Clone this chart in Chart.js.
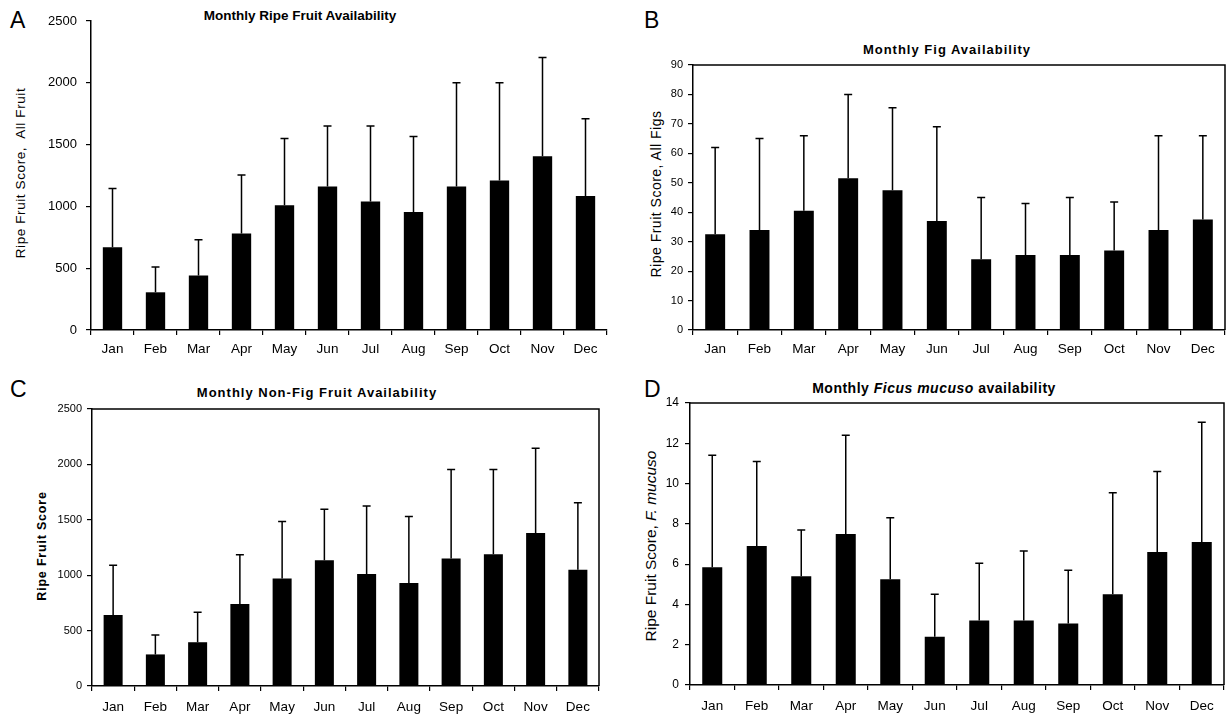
<!DOCTYPE html>
<html>
<head>
<meta charset="utf-8">
<script src="https://cdn.jsdelivr.net/npm/chart.js@4.4.0/dist/chart.umd.min.js"></script>
<style>
  html, body { margin: 0; padding: 0; background: #fff; }
  body { width: 1226px; height: 715px; position: relative; overflow: hidden; font-family: "Liberation Sans", Arial, sans-serif; color: #000; }
  .box { position: absolute; }
  .letter { position: absolute; font-size: 23px; line-height: 1; font-family: "Liberation Sans", Arial, sans-serif; }
  .ttl { position: absolute; font-weight: bold; white-space: nowrap; transform: translateX(-50%); line-height: 1; }
  .ytl { position: absolute; white-space: nowrap; transform: translate(-50%, -50%) rotate(-90deg); line-height: 1; }
</style>
</head>
<body>
<div class="letter" style="left:10px;top:9px;">A</div>
<div class="letter" style="left:644px;top:9px;">B</div>
<div class="letter" style="left:10px;top:378px;">C</div>
<div class="letter" style="left:644px;top:378px;">D</div>

<div class="ttl" style="left:300px;top:9px;font-size:13.5px;">Monthly Ripe Fruit Availability</div>
<div class="ttl" style="left:947px;top:43px;font-size:13px;letter-spacing:1px;">Monthly Fig Availability</div>
<div class="ttl" style="left:317px;top:386px;font-size:13px;letter-spacing:1px;">Monthly Non-Fig Fruit Availability</div>
<div class="ttl" style="left:934px;top:381px;font-size:14px;letter-spacing:0.5px;">Monthly <i>Ficus mucuso</i> availability</div>

<div class="ytl" style="left:21px;top:173px;font-size:13.5px;letter-spacing:0.6px;">Ripe Fruit Score,&nbsp; All Fruit</div>
<div class="ytl" style="left:656px;top:194px;font-size:14px;letter-spacing:0.5px;">Ripe Fruit Score, All Figs</div>
<div class="ytl" style="left:42px;top:546px;font-size:12.5px;font-weight:bold;letter-spacing:0.8px;">Ripe Fruit Score</div>
<div class="ytl" style="left:651px;top:546px;font-size:15.5px;">Ripe Fruit Score, <i>F. mucuso</i></div>

<div class="box" style="left:0;top:0;"><canvas id="cA" width="615" height="362"></canvas></div>
<div class="box" style="left:610px;top:0;"><canvas id="cB" width="616" height="362"></canvas></div>
<div class="box" style="left:0;top:360px;"><canvas id="cC" width="615" height="355"></canvas></div>
<div class="box" style="left:610px;top:360px;"><canvas id="cD" width="616" height="355"></canvas></div>

<script>
// ---- Data ----
const months = ["Jan","Feb","Mar","Apr","May","Jun","Jul","Aug","Sep","Oct","Nov","Dec"];

const allFruitMean  = [670, 305, 440, 780, 1010, 1160, 1040, 955, 1160, 1210, 1405, 1085];
const allFruitUpper = [1145, 510, 730, 1255, 1550, 1650, 1650, 1565, 2000, 2000, 2205, 1710];

const figMean  = [32.5, 34, 40.5, 51.5, 47.5, 37, 24, 25.5, 25.5, 27, 34, 37.5];
const figUpper = [62, 65, 66, 80, 75.5, 69, 45, 43, 45, 43.5, 66, 66];

const nonFigMean  = [640, 285, 395, 740, 970, 1135, 1010, 930, 1150, 1190, 1380, 1050];
const nonFigUpper = [1090, 460, 665, 1185, 1485, 1595, 1625, 1530, 1955, 1955, 2145, 1655];

const mucusoMean  = [5.85, 6.9, 5.4, 7.5, 5.25, 2.4, 3.2, 3.2, 3.05, 4.5, 6.6, 7.1];
const mucusoUpper = [11.4, 11.1, 7.7, 12.4, 8.3, 4.5, 6.05, 6.65, 5.7, 9.55, 10.6, 13.05];

const yMaxA = 2500, yStepA = 500;
const yMaxB = 90,   yStepB = 10;
const yMaxC = 2500, yStepC = 500;
const yMaxD = 14,   yStepD = 2;

// ---- Plugins ----
const errorBars = {
  id: 'errorBars',
  afterDatasetsDraw(chart, args, opts) {
    const upper = opts.upper;
    if (!upper) return;
    const ctx = chart.ctx;
    const meta = chart.getDatasetMeta(0);
    const ys = chart.scales.y;
    ctx.save();
    ctx.strokeStyle = '#000';
    ctx.lineWidth = 1.5;
    meta.data.forEach((bar, i) => {
      const x = bar.x;
      const y0 = bar.y;
      const y1 = ys.getPixelForValue(upper[i]);
      ctx.beginPath();
      ctx.moveTo(x, y0);
      ctx.lineTo(x, y1);
      ctx.moveTo(x - 4, y1);
      ctx.lineTo(x + 4, y1);
      ctx.stroke();
    });
    ctx.restore();
  }
};

const frame = {
  id: 'frame',
  afterDraw(chart, args, opts) {
    if (!opts.show) return;
    const a = chart.chartArea;
    const ctx = chart.ctx;
    ctx.save();
    ctx.strokeStyle = '#000';
    ctx.lineWidth = 1.5;
    ctx.beginPath();
    ctx.moveTo(a.left, a.top);
    ctx.lineTo(a.right, a.top);
    ctx.lineTo(a.right, a.bottom);
    ctx.stroke();
    ctx.restore();
  }
};

function makeChart(id, mean, upper, cfg) {
  return new Chart(document.getElementById(id), {
    type: 'bar',
    data: {
      labels: months,
      datasets: [{
        data: mean,
        backgroundColor: '#000',
        borderWidth: 0,
        barPercentage: 0.45,
        categoryPercentage: 1.0
      }]
    },
    options: {
      responsive: false,
      animation: false,
      events: [],
      layout: { padding: cfg.padding },
      plugins: {
        legend: { display: false },
        tooltip: { enabled: false },
        title: { display: false },
        errorBars: { upper: upper },
        frame: { show: cfg.frame }
      },
      scales: {
        x: {
          grid: { display: true, drawOnChartArea: false, drawTicks: true, tickLength: 5, color: '#000', lineWidth: 1.2, offset: true },
          border: { display: true, color: '#000', width: 1.5 },
          ticks: { color: '#000', font: { family: '"Liberation Sans", Arial, sans-serif', size: cfg.xFont }, padding: cfg.xPad, maxRotation: 0, autoSkip: false },
          afterFit(s) { s.height = cfg.xHeight; }
        },
        y: {
          min: 0, max: cfg.yMax,
          grid: { display: true, drawOnChartArea: false, drawTicks: true, tickLength: 5, color: '#000', lineWidth: 1.2 },
          border: { display: true, color: '#000', width: 1.5 },
          ticks: {
            stepSize: cfg.yStep, color: '#000',
            font: { family: '"Liberation Sans", Arial, sans-serif', size: cfg.yFont },
            padding: cfg.yPad,
            callback: (v) => String(v)
          },
          afterFit(s) { s.width = cfg.yWidth; }
        }
      }
    },
    plugins: [errorBars, frame]
  });
}

makeChart('cA', allFruitMean, allFruitUpper, {
  padding: { left: 0, top: 21, right: 8, bottom: 0 },
  yWidth: 91, xHeight: 32, yMax: yMaxA, yStep: yStepA, yFont: 13, xFont: 13.5, xPad: 6, yPad: 9, frame: false
});
makeChart('cB', figMean, figUpper, {
  padding: { left: 0, top: 65, right: 1, bottom: 0 },
  yWidth: 83, xHeight: 32, yMax: yMaxB, yStep: yStepB, yFont: 11, xFont: 13.5, xPad: 6, yPad: 5, frame: true
});
makeChart('cC', nonFigMean, nonFigUpper, {
  padding: { left: 0, top: 49, right: 16, bottom: 0 },
  yWidth: 92, xHeight: 29, yMax: yMaxC, yStep: yStepC, yFont: 11, xFont: 13.5, xPad: 8, yPad: 5, frame: true
});
makeChart('cD', mucusoMean, mucusoUpper, {
  padding: { left: 0, top: 43, right: 2, bottom: 0 },
  yWidth: 80, xHeight: 30, yMax: yMaxD, yStep: yStepD, yFont: 12, xFont: 13.5, xPad: 8, yPad: 6, frame: true
});
</script>
</body>
</html>
